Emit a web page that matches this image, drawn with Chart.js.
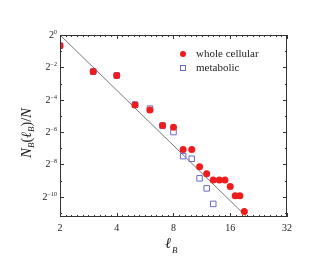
<!DOCTYPE html>
<html>
<head>
<meta charset="UTF-8" />
<title>Chemical distance scaling</title>
<script src="https://cdn.jsdelivr.net/npm/chart.js"></script>
<style>
  body { margin: 0; background: #fff; }
</style>
</head>
<body>
<canvas id="chart" width="322" height="275"></canvas>
<script>
// whole cellular network: l_B and log2 of N_B(l_B)/N
const cellL = [2, 3, 4, 5, 6, 7, 8, 9, 10, 11, 12, 13, 14, 15, 16, 17, 18, 19];
const cellExp = [-0.66, -2.26, -2.5, -4.33, -4.63, -5.6, -5.7, -7.08, -7.08, -8.14, -8.57, -8.97, -8.97, -8.97, -9.37, -9.93, -9.93, -10.91];

// metabolic network
const metaL = [2, 3, 4, 5, 6, 7, 8, 9, 10, 11, 12, 13];
const metaExp = [-0.66, -2.26, -2.5, -4.3, -4.55, -5.6, -6.0, -7.49, -7.65, -8.86, -9.48, -10.44];

// power-law guide line (end points)
const fitL = [2, 19.6];
const fitExp = [0, -11.25];

// axes
const xTicks = [2, 4, 8, 16, 32];
const xTickLabels = ['2', '4', '8', '16', '32'];
const yTickExp = [0, -2, -4, -6, -8, -10];
const yMinExp = -11.25;

const FONT = "'Liberation Serif', 'DejaVu Serif', serif";

const toPts = (xs, es) => xs.map((x, i) => ({ x: x, y: Math.pow(2, es[i]) }));

// frame, inward ticks, y labels with superscripts, axis titles, legend
const decor = {
  id: 'decor',
  afterDraw(chart) {
    const ctx = chart.ctx;
    const a = chart.chartArea;
    const xs = chart.scales.x, ys = chart.scales.y;
    ctx.save();
    ctx.strokeStyle = '#333';
    ctx.lineWidth = 1;
    ctx.strokeRect(a.left + 0.5, a.top + 0.5, a.right - a.left - 1, a.bottom - a.top - 1);

    ctx.beginPath();
    for (let k = 10; k <= 50; k++) {
      const px = Math.round(xs.getPixelForValue(Math.pow(2, k / 10))) + 0.5;
      const len = k % 10 === 0 ? 4 : 2;
      ctx.moveTo(px, a.bottom); ctx.lineTo(px, a.bottom - len);
      ctx.moveTo(px, a.top); ctx.lineTo(px, a.top + len);
    }
    for (let e = 0; e >= -11; e--) {
      const py = Math.round(ys.getPixelForValue(Math.pow(2, e))) + 0.5;
      const len = e % 2 === 0 ? 4 : 2;
      ctx.moveTo(a.left, py); ctx.lineTo(a.left + len, py);
      ctx.moveTo(a.right, py); ctx.lineTo(a.right - len, py);
    }
    ctx.stroke();

    // y tick labels 2^e
    ctx.fillStyle = '#222';
    ctx.textBaseline = 'alphabetic';
    yTickExp.forEach(e => {
      const py = ys.getPixelForValue(Math.pow(2, e));
      const sup = e === 0 ? '0' : '\u2212' + (-e);
      ctx.font = '6px ' + FONT;
      const sw = ctx.measureText(sup).width;
      ctx.textAlign = 'right';
      ctx.fillText(sup, a.left - 3, py - 1);
      ctx.font = '10px ' + FONT;
      ctx.fillText('2', a.left - 3 - sw, py + 3);
    });

    // y title N_B(l_B)/N
    const parts = [
      ['N', 'italic 15px ' + FONT, 0],
      ['B', 'italic 9px ' + FONT, 3],
      ['(', '14px ' + FONT, 0],
      ['\u2113', 'italic 14px ' + FONT, 0],
      ['B', 'italic 9px ' + FONT, 3],
      [')/', '14px ' + FONT, 0],
      ['N', 'italic 15px ' + FONT, 0]
    ];
    let total = 0;
    parts.forEach(p => { ctx.font = p[1]; total += ctx.measureText(p[0]).width; });
    ctx.save();
    ctx.translate(31, 133);
    ctx.rotate(-Math.PI / 2);
    ctx.textAlign = 'left';
    let cx = -total / 2;
    parts.forEach(p => {
      ctx.font = p[1];
      ctx.fillText(p[0], cx, p[2]);
      cx += ctx.measureText(p[0]).width;
    });
    ctx.restore();

    // x title l_B
    ctx.textAlign = 'left';
    ctx.font = 'italic 15px ' + FONT;
    ctx.fillText('\u2113', 165, 248);
    ctx.font = 'italic 9px ' + FONT;
    ctx.fillText('B', 172, 253);

    // legend
    ctx.fillStyle = '#ee1c1c';
    ctx.beginPath();
    ctx.arc(183, 54, 3, 0, Math.PI * 2);
    ctx.fill();
    ctx.strokeStyle = '#6a6ac8';
    ctx.strokeRect(180.5, 65.5, 5, 5);
    ctx.fillStyle = '#222';
    ctx.font = '11px ' + FONT;
    ctx.textBaseline = 'middle';
    ctx.fillText('whole cellular', 196, 54);
    ctx.fillText('metabolic', 196, 68);
    ctx.restore();
  }
};

new Chart(document.getElementById('chart'), {
  type: 'scatter',
  data: {
    datasets: [
      {
        label: 'whole cellular',
        data: toPts(cellL, cellExp),
        pointStyle: 'circle',
        pointRadius: 3.5,
        backgroundColor: '#ee1c1c',
        borderColor: '#ee1c1c',
        borderWidth: 0,
        order: 0
      },
      {
        label: 'metabolic',
        data: toPts(metaL, metaExp),
        pointStyle: 'rect',
        pointRadius: 3.9,
        backgroundColor: 'rgba(0,0,0,0)',
        borderColor: '#6a6ac8',
        borderWidth: 1,
        order: 1
      },
      {
        type: 'line',
        label: 'fit',
        data: toPts(fitL, fitExp),
        borderColor: '#555',
        borderWidth: 0.8,
        pointRadius: 0,
        order: 2
      }
    ]
  },
  options: {
    responsive: false,
    animation: false,
    devicePixelRatio: 1,
    layout: { padding: { top: 35, right: 35, left: 0, bottom: 0 } },
    plugins: { legend: { display: false }, tooltip: { enabled: false } },
    scales: {
      x: {
        type: 'logarithmic',
        min: 2,
        max: 32,
        afterBuildTicks: s => { s.ticks = xTicks.map(v => ({ value: v })); },
        afterFit: s => { s.height = 58; },
        grid: { display: false, drawTicks: false },
        border: { display: false },
        ticks: {
          autoSkip: false,
          maxRotation: 0,
          padding: 5,
          color: '#222',
          font: { family: FONT, size: 10 },
          callback: (v, i) => xTickLabels[i]
        }
      },
      y: {
        type: 'logarithmic',
        min: Math.pow(2, yMinExp),
        max: 1,
        afterBuildTicks: s => { s.ticks = yTickExp.map(e => ({ value: Math.pow(2, e) })); },
        afterFit: s => { s.width = 60; },
        grid: { display: false, drawTicks: false },
        border: { display: false },
        ticks: { display: false }
      }
    }
  },
  plugins: [decor]
});
</script>
</body>
</html>
